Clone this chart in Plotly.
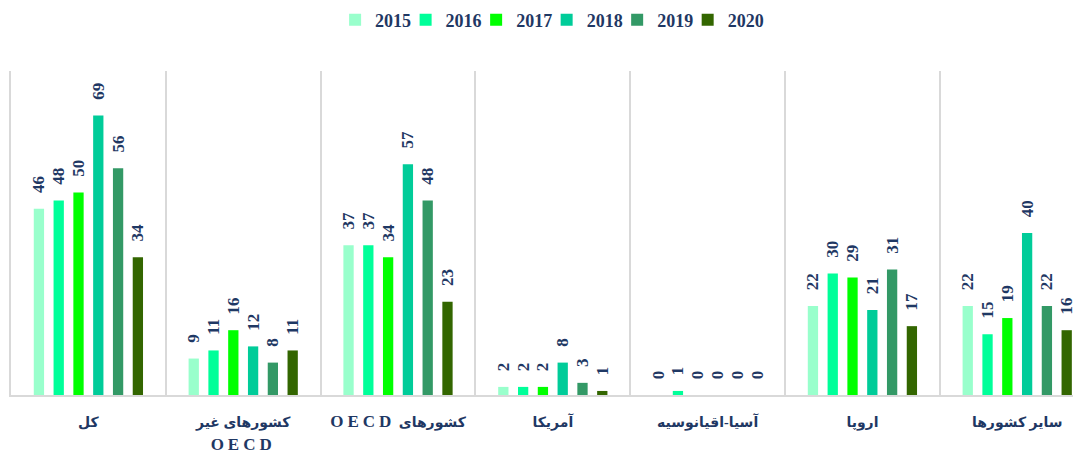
import plotly.graph_objects as go

AR = '<span style="font-size:14px">{}</span>'
LAT = '<span style="font-size:17px;letter-spacing:4px">{}</span>'

categories = [
    AR.format("کل"),
    AR.format("کشورهای غیر") + "<br>" + LAT.format("OECD"),
    AR.format("\u202bکشورهای ") + LAT.format("OECD\u202c"),
    AR.format("آمریکا"),
    AR.format("آسیا-اقیانوسیه"),
    AR.format("اروپا"),
    AR.format("سایر کشورها"),
]
years = ["2015", "2016", "2017", "2018", "2019", "2020"]
v2015 = [46, 9, 37, 2, 0, 22, 22]
v2016 = [48, 11, 37, 2, 1, 30, 15]
v2017 = [50, 16, 34, 2, 0, 29, 19]
v2018 = [69, 12, 57, 8, 0, 21, 40]
v2019 = [56, 8, 48, 3, 0, 31, 22]
v2020 = [34, 11, 23, 1, 0, 17, 16]
series = [v2015, v2016, v2017, v2018, v2019, v2020]
colors = ["#99FFCC", "#00FF99", "#00FF00", "#00CC99", "#339966", "#336600"]

navy = "#1F3864"
grid = "#D9D9D9"

fig = go.Figure()
legend_layouts = {}
for i, (name, vals, col) in enumerate(zip(years, series, colors)):
    lg = "legend" if i == 0 else f"legend{i + 1}"
    fig.add_trace(go.Bar(
        name=name, x=categories, y=vals, legend=lg,
        marker=dict(color=col, line=dict(width=0)),
        text=[str(v) for v in vals],
        texttemplate="\u00a0\u00a0\u00a0%{text}",
        textposition="outside", textangle=-90,
        constraintext="none", cliponaxis=False,
        textfont=dict(family="Liberation Serif", size=17, color=navy, weight="bold"),
    ))
    legend_layouts[lg] = dict(
        orientation="h", x=0.3029 + i * 0.0659, xanchor="left",
        y=1.157, yanchor="middle", bgcolor="rgba(0,0,0,0)",
        font=dict(family="Liberation Serif", size=18, color=navy, weight="bold"),
    )

# page body has an 8px margin, so offsets are compensated here
fig.update_layout(
    width=1081, height=454,
    margin=dict(l=3, r=8, t=63, b=67, autoexpand=False),
    paper_bgcolor="white", plot_bgcolor="white",
    barmode="group", bargap=0.233, bargroupgap=0.48,
    showlegend=True,
    xaxis=dict(range=[-0.5, 6.412], tickson="boundaries", showgrid=True, gridcolor=grid,
               gridwidth=1.5, showline=True, linecolor=grid, linewidth=1.5, ticks="",
               ticklabelstandoff=9, automargin=False,
               tickfont=dict(family="Liberation Serif, DejaVu Sans", size=17.5, color=navy,
                             weight="bold")),
    yaxis=dict(range=[0, 80], showgrid=False, zeroline=False, showticklabels=False,
               showline=True, linecolor=grid, linewidth=1.5, automargin=False),
    **legend_layouts,
)

fig.write_html("out.html")
